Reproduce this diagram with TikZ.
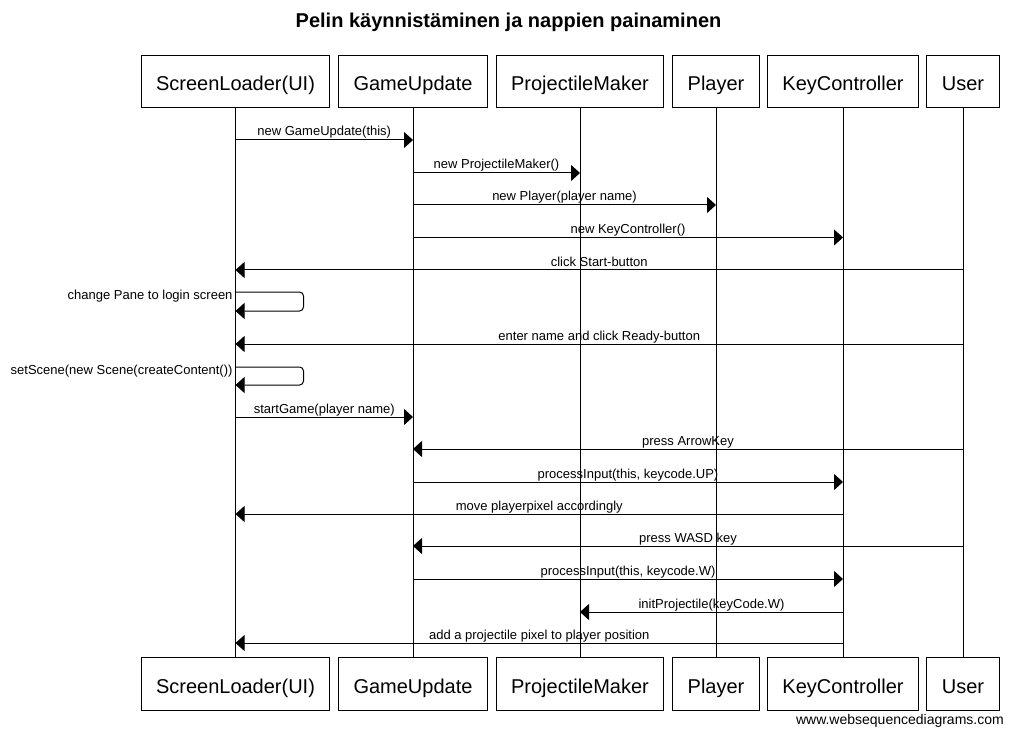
\documentclass[tikz,border=0pt]{standalone}
\usepackage{fontspec}
\setmainfont{Liberation Sans}
\usetikzlibrary{arrows.meta,positioning}
% Participant boxes, drawn at the top and once more at the bottom.
\tikzstyle{participant box}=[
  draw, line width=1pt, fill=white,
  minimum height=52.5pt, inner xsep=15pt,
  % fixed height and depth, so every name sits on the same baseline
  text height=18pt, text depth=0pt,
  font=\fontsize{20}{24}\selectfont
]
\tikzstyle{message line}=[
  line width=1pt,
  -{Triangle[length=9pt,width=16pt]}
]
\tikzstyle{message text}=[
  midway, anchor=base, yshift=4pt, inner sep=0pt,
  font=\fontsize{13}{15}\selectfont
]
% A message to itself goes out to the right and comes back.
\tikzstyle{self text}=[
  anchor=base east, xshift=-2.5pt, yshift=-7pt, inner sep=0pt,
  font=\fontsize{13}{15}\selectfont
]

\begin{document}
\begin{tikzpicture}[x=1pt, y=-1pt,
    lifeline/.style={line width=1pt},
    self message/.style={message line, rounded corners=4pt}]
  \useasboundingbox (0,0) rectangle (1014,735);

  \node[font=\bfseries\fontsize{20}{24}\selectfont, anchor=base] (title)
    at (508.5,28) {Pelin käynnistäminen ja nappien painaminen};

  \node[participant box] (sl) at (235.5,81.5) {ScreenLoader(UI)};
  \node[participant box] (gu) at (413,81.5) {GameUpdate};
  \node[participant box] (pm) at (580,81.5) {ProjectileMaker};
  \node[participant box] (pl) at (716,81.5) {Player};
  \node[participant box] (kc) at (843,81.5) {KeyController};
  \node[participant box] (us) at (963,81.5) {User};

  \node[participant box, below=549pt of sl] (sl bottom) {ScreenLoader(UI)};
  \node[participant box, below=549pt of gu] (gu bottom) {GameUpdate};
  \node[participant box, below=549pt of pm] (pm bottom) {ProjectileMaker};
  \node[participant box, below=549pt of pl] (pl bottom) {Player};
  \node[participant box, below=549pt of kc] (kc bottom) {KeyController};
  \node[participant box, below=549pt of us] (us bottom) {User};

  \draw[lifeline] (sl) -- (sl bottom);
  \draw[lifeline] (gu) -- (gu bottom);
  \draw[lifeline] (pm) -- (pm bottom);
  \draw[lifeline] (pl) -- (pl bottom);
  \draw[lifeline] (kc) -- (kc bottom);
  \draw[lifeline] (us) -- (us bottom);

  \draw[message line] (sl |- 0,140) -- node[message text] {new GameUpdate(this)} (gu |- 0,140);
  \draw[message line] (gu |- 0,173) -- node[message text] {new ProjectileMaker()} (pm |- 0,173);
  \draw[message line] (gu |- 0,205) -- node[message text] {new Player(player name)} (pl |- 0,205);
  \draw[message line] (gu |- 0,237.5) -- node[message text] {new KeyController()} (kc |- 0,237.5);
  \draw[message line] (us |- 0,270) -- node[message text] {click Start-button} (sl |- 0,270);
  \draw[self message] (sl |- 0,292) node[self text] {change Pane to login screen}
    -- ++(68,0) -- ++(0,19) -- (sl |- 0,311);
  \draw[message line] (us |- 0,344) -- node[message text] {enter name and click Ready-button} (sl |- 0,344);
  \draw[self message] (sl |- 0,367) node[self text] {setScene(new Scene(createContent())}
    -- ++(68,0) -- ++(0,18) -- (sl |- 0,385);
  \draw[message line] (sl |- 0,417) -- node[message text] {startGame(player name)} (gu |- 0,417);
  \draw[message line] (us |- 0,449) -- node[message text] {press ArrowKey} (gu |- 0,449);
  \draw[message line] (gu |- 0,482) -- node[message text] {processInput(this, keycode.UP)} (kc |- 0,482);
  \draw[message line] (kc |- 0,514) -- node[message text] {move playerpixel accordingly} (sl |- 0,514);
  \draw[message line] (us |- 0,546) -- node[message text] {press WASD key} (gu |- 0,546);
  \draw[message line] (gu |- 0,579) -- node[message text] {processInput(this, keycode.W)} (kc |- 0,579);
  \draw[message line] (kc |- 0,612) -- node[message text] {initProjectile(keyCode.W)} (pm |- 0,612);
  \draw[message line] (kc |- 0,643) -- node[message text] {add a projectile pixel to player position} (sl |- 0,643);

  \node[anchor=base east, inner sep=0pt, font=\fontsize{14}{16}\selectfont] (site)
    at (1004,724.5) {www.websequencediagrams.com};
\end{tikzpicture}
\end{document}
